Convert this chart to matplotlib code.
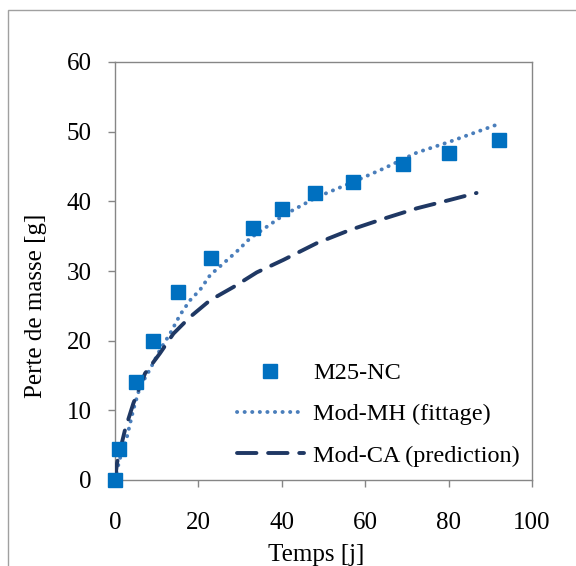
import matplotlib.pyplot as plt
import matplotlib.patches as patches

plt.rcParams['font.family'] = ['Liberation Serif', 'DejaVu Serif']

# measured mass loss
t_meas = [0, 1, 5, 9, 15, 23, 33, 40, 48, 57, 69, 80, 92]
m_meas = [0, 4.4, 14.0, 19.9, 27.0, 31.8, 36.2, 38.9, 41.2, 42.8, 45.3, 47.0, 48.8]

# Mod-MH (fittage)
t_mh = [0, 0.6, 1.5, 2.8, 4.4, 6.0, 8.4, 10.8, 13.2, 15.6, 18, 20.4, 22.8, 26, 29.2,
        32.4, 40.4, 48.4, 56.4, 64.4, 72.4, 80, 86, 92]
m_mh = [0, 1.7, 3.8, 6.0, 10.1, 13.4, 15.9, 18.7, 21.0, 23.7, 25.8, 27.3, 29.4, 31.1, 32.8,
        34.7, 38.0, 40.6, 42.6, 44.7, 47.0, 48.5, 49.8, 51.1]

# Mod-CA (prediction)
t_ca = [0, 0.5, 2.4, 4.4, 7.2, 10.8, 14, 18, 22.8, 28.4, 34, 40.4, 48.4, 56.4, 64.4,
        72.4, 80.3, 86.7]
m_ca = [0, 2.5, 7.2, 11.0, 15.3, 18.2, 21.0, 23.4, 25.8, 27.7, 29.8, 31.6, 34.0, 35.9, 37.5,
        39.0, 40.2, 41.2]

labels = ['M25-NC', 'Mod-MH (fittage)', 'Mod-CA (prediction)']
x_ticks = [0, 20, 40, 60, 80, 100]
y_ticks = [0, 10, 20, 30, 40, 50, 60]

W, H = 576, 566
fig = plt.figure(figsize=(W / 100, H / 100), dpi=100)
ax = fig.add_axes([115 / W, 1 - 480 / H, 417 / W, 418 / H])

ax.plot(t_meas, m_meas, 's', color='#0070C0', ms=10.5, mec='#0070C0',
        label=labels[0], clip_on=False, zorder=4)
ax.plot(t_mh, m_mh, color='#4A7EBB', lw=2.8, ls=(0, (0.05, 1.9)),
        dash_capstyle='round', label=labels[1], zorder=3)
ax.plot(t_ca, m_ca, color='#1F3864', lw=2.8, ls=(0, (5.0, 3.0)),
        dash_capstyle='round', label=labels[2], zorder=3)

ax.set_xlim(0, 100)
ax.set_ylim(0, 60)
ax.set_xticks(x_ticks)
ax.set_yticks(y_ticks)
ax.tick_params(direction='out', length=5, width=1, color='#868686', labelsize=18)
ax.tick_params(axis='x', pad=18)
ax.tick_params(axis='y', pad=12)
for sp in ax.spines.values():
    sp.set_color('#868686')
    sp.set_linewidth(1)

fig.text(316 / W, 1 - 555 / H, 'Temps [j]', ha='center', va='center', fontsize=18)
fig.text(36 / W, 1 - 306 / H, 'Perte de masse [g]', ha='center', va='center',
         rotation=90, fontsize=18)

ax.legend(loc='upper left', bbox_to_anchor=((237 - 115) / 417, (480 - 362) / 418),
          frameon=False, fontsize=17.5, borderpad=0, borderaxespad=0,
          handlelength=2.75, handletextpad=0.38, labelspacing=0.8)

# outer chart frame
fig.patches.append(patches.Rectangle((8 / W, -0.1), 2, 1 - 10 / H + 0.1,
                                     transform=fig.transFigure, fill=False,
                                     edgecolor='#A0A0A0', lw=1))

fig.savefig('out.png', dpi=100)
